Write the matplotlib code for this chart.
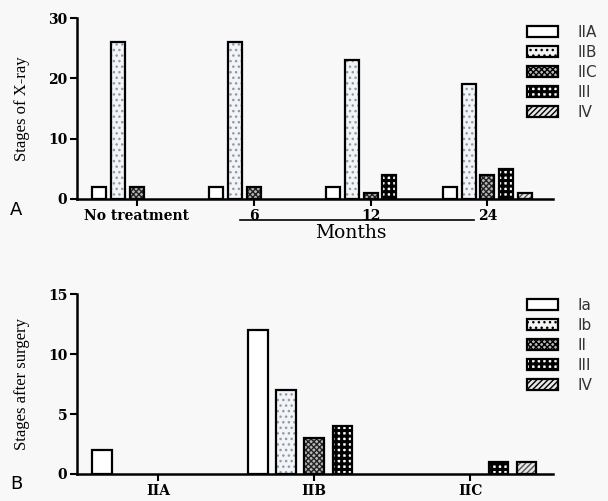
import matplotlib
matplotlib.use("Agg")
import matplotlib.pyplot as plt
import numpy as np
from matplotlib.patches import Patch
from matplotlib.legend_handler import HandlerPatch

# panel A data
groups_a = ['No treatment', '6', '12', '24']
xray_a = {
    'IIA': [2, 2, 2, 2],
    'IIB': [26, 26, 23, 19],
    'IIC': [2, 2, 1, 4],
    'III': [0, 0, 4, 5],
    'IV': [0, 0, 0, 1],
}
# panel B data
groups_b = ['IIA', 'IIB', 'IIC']
surg_b = {
    'Ia': [2, 12, 0],
    'Ib': [0, 7, 0],
    'II': [0, 3, 0],
    'III': [0, 4, 1],
    'IV': [0, 0, 1],
}

# fill styles: face, hatch, hatch colour, hatch linewidth
styles = [
    ('white', '', 'black', 1.0),
    ('#f2f4f6', '...', '#8f9aa8', 1.0),
    ('#b8b8b8', 'xxxxxx', '#222222', 1.0),
    ('white', '+++', 'black', 2.2),
    ('#e8e8e8', '//////', '#555555', 1.0),
]

bg = '#f8f8f8'
fig = plt.figure(figsize=(6.08, 5.01), dpi=100, facecolor=bg)
serif = 'Liberation Serif'
tickfont = 'DejaVu Serif'


def set_hlw(p, hlw):
    try:
        p.set_hatch_linewidth(hlw)
    except AttributeError:
        pass


class HatchHandler(HandlerPatch):
    def __init__(self, hlw, **kw):
        super().__init__(**kw)
        self.hlw = hlw

    def create_artists(self, legend, orig_handle, xdescent, ydescent,
                       width, height, fontsize, trans):
        with plt.rc_context({'hatch.linewidth': self.hlw}):
            arts = super().create_artists(legend, orig_handle, xdescent, ydescent,
                                          width, height, fontsize, trans)
        for a in arts:
            set_hlw(a, self.hlw)
        return arts


def draw(ax, data, groups, pitch, width, xlim, ymax, yticks):
    x = np.arange(len(groups))
    for i, (name, vals) in enumerate(data.items()):
        face, hatch, hc, hlw = styles[i]
        pos = x + (i - 2) * pitch
        v = np.array(vals, dtype=float)
        keep = v > 0
        with plt.rc_context({'hatch.linewidth': hlw}):
            bars = ax.bar(pos[keep], v[keep], width, color=face, hatch=hatch,
                          edgecolor=hc, linewidth=0, zorder=2)
            for b in bars:
                set_hlw(b, hlw)
        ax.bar(pos[keep], v[keep], width, fill=False, edgecolor='black',
               linewidth=1.6, zorder=3)
    ax.set_xlim(*xlim)
    ax.set_ylim(0, ymax)
    ax.set_yticks(yticks)
    ax.set_xticks(x)
    ax.set_xticklabels(groups, fontfamily=tickfont, fontweight='bold', fontsize=10)
    for lab in ax.get_yticklabels():
        lab.set_fontfamily(tickfont)
        lab.set_fontweight('bold')
        lab.set_fontsize(10)
    ax.spines['top'].set_visible(False)
    ax.spines['right'].set_visible(False)
    ax.spines['left'].set_linewidth(1.8)
    ax.spines['bottom'].set_linewidth(1.8)
    ax.tick_params(direction='out', width=1.5, length=5, pad=2)
    ax.set_facecolor(bg)


def legend(ax, labels, top):
    handles = []
    hmap = {}
    for face, hatch, hc, hlw in styles:
        p = Patch(facecolor=face, hatch=hatch, edgecolor='black', linewidth=1.6)
        handles.append(p)
        hmap[p] = HatchHandler(hlw)
    ax.legend(handles, labels, loc='upper left', bbox_to_anchor=(527 / 608, 1 - top / 501),
              bbox_transform=fig.transFigure, frameon=False, fontsize=11,
              borderpad=0, borderaxespad=0, handlelength=2.0, handleheight=0.7,
              labelspacing=0.33, handletextpad=1.3, labelcolor='#333333',
              handler_map=hmap)


# top panel
ax1 = fig.add_axes([0.1266, 0.6028, 0.7829, 0.3612])
draw(ax1, xray_a, groups_a, 0.162, 0.12, (-0.51, 3.56), 30, [0, 10, 20, 30])
ax1.set_ylabel('Stages of X-ray', fontfamily=serif, fontsize=12, labelpad=13)
legend(ax1, list(xray_a.keys()), 25)
fig.add_artist(plt.Line2D([240 / 608, 474 / 608], [1 - 220 / 501, 1 - 220 / 501],
                          color='black', linewidth=1.2))
fig.text(351 / 608, 1 - 233 / 501, 'Months', fontfamily=tickfont, fontsize=13.5,
         ha='center', va='center')
fig.text(10 / 608, 1 - 210 / 501, 'A', fontsize=13, ha='left', va='center')

# bottom panel
ax2 = fig.add_axes([0.1266, 0.0539, 0.7829, 0.3592])
draw(ax2, surg_b, groups_b, 0.18, 0.125, (-0.52, 2.53), 15, [0, 5, 10, 15])
ax2.set_ylabel('Stages after surgery', fontfamily=serif, fontsize=12, labelpad=13)
legend(ax2, list(surg_b.keys()), 298)
fig.text(10 / 608, 1 - 484 / 501, 'B', fontsize=13, ha='left', va='center')

fig.savefig('out.png', dpi=100, facecolor=bg)
